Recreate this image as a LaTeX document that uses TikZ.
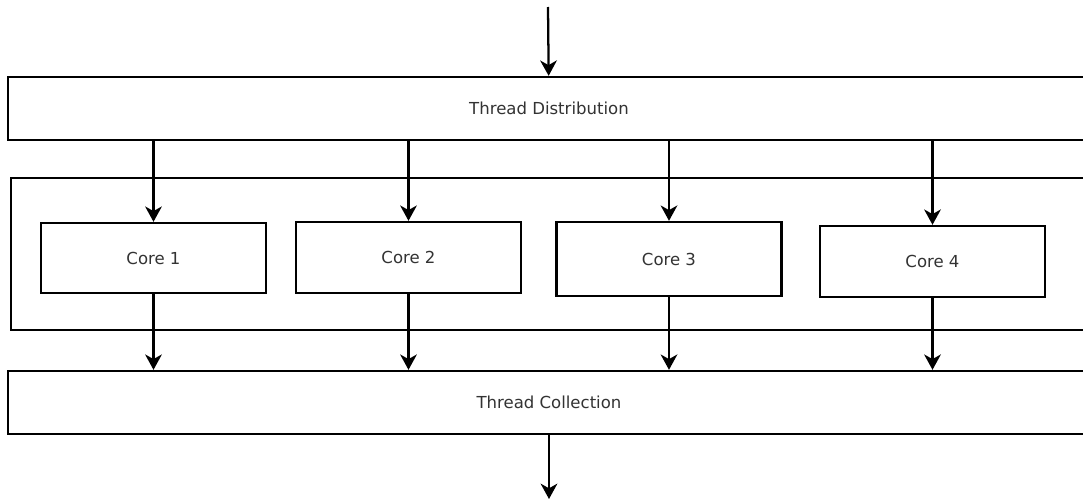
\documentclass[tikz,border=0pt]{standalone}
\usepackage{fontspec}
\setmainfont{DejaVu Sans}
\usetikzlibrary{arrows.meta}
\tikzset{
  box/.style = {draw, line width=1.8pt, inner sep=0pt, text=black!80,
    font=\fontsize{12.4}{15}\selectfont},
  corebox/.style = {box, minimum width=168.75pt},
  wide/.style = {box, minimum width=811.5pt, minimum height=47.25pt},
  flow/.style = {-{Stealth[length=11.5pt,width=12.5pt,inset=3.5pt]}, line width=1.7pt}
}

\begin{document}
\begin{tikzpicture}[x=0.75pt,y=-0.75pt]
  \clip (0,0) rectangle (1083,500);
  \fill[white] (0,0) rectangle (1083,500);
  \node[wide] (dist) at (549,108.5) {Thread Distribution};
  \node[box, minimum width=809.25pt, minimum height=114pt] (cores) at (550.5,254) {};
  \node[wide] (coll) at (549,402.5) {Thread Collection};
  \coordinate (in) at (548,7);
  \coordinate (out) at (549,499);
  \draw[flow] (in) -- (dist);
  \draw[flow] (coll) -- (out);
  \foreach \n/\x/\y/\h in {1/153.5/258/70, 2/408.5/257.5/71, 3/669/259/74, 4/932.5/261.5/71} {%
    \node[corebox, minimum height=\h*0.75pt] (core\n) at (\x,\y) {Core \n};
    \draw[flow] (dist.south -| core\n) -- (core\n);
    \draw[flow] (core\n) -- (coll.north -| core\n);
  }
\end{tikzpicture}
\end{document}
